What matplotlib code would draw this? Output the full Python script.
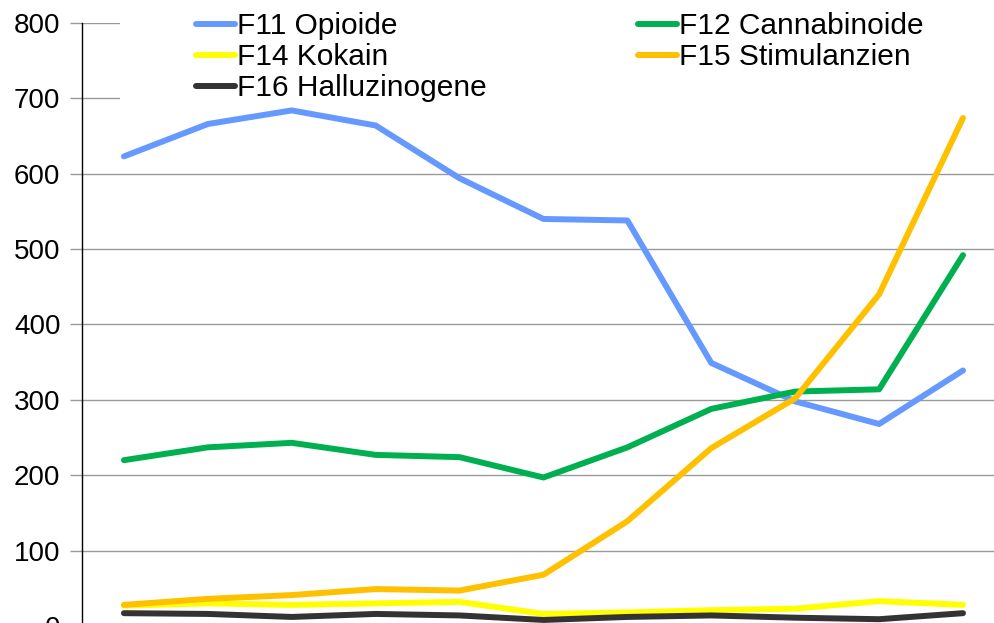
import matplotlib
matplotlib.use("Agg")
import matplotlib.pyplot as plt
from matplotlib.patches import Rectangle
import numpy as np

plt.rcParams['font.family'] = ['Liberation Sans', 'DejaVu Sans']

# values (year labels are cut off in the source)
f11_opioide = [623, 666, 684, 664, 594, 540, 538, 349, 298, 268, 339]
f12_cannabinoide = [220, 237, 243, 227, 224, 197, 237, 288, 311, 314, 492]
f14_kokain = [27, 30, 28, 30, 32, 16, 18, 21, 23, 33, 28]
f15_stimulanzien = [28, 36, 41, 49, 47, 68, 139, 236, 302, 440, 674]
f16_halluzinogene = [17, 16, 12, 16, 14, 8, 12, 14, 11, 9, 17]

series = [
    ("F11 Opioide", f11_opioide, "#6699FF"),
    ("F12 Cannabinoide", f12_cannabinoide, "#00B050"),
    ("F14 Kokain", f14_kokain, "#FFFF00"),
    ("F15 Stimulanzien", f15_stimulanzien, "#FFC000"),
    ("F16 Halluzinogene", f16_halluzinogene, "#333333"),
]

fig = plt.figure(figsize=(9.95, 6.23), dpi=100)
ax = fig.add_axes([0.0824, -0.0048, 0.9276, 0.9679])

x = np.arange(len(f11_opioide))
handles = []
for label, vals, color in series:
    h, = ax.plot(x, vals, color=color, lw=4.3, label=label, solid_capstyle='round')
    handles.append(h)

ax.set_xlim(-0.5, 10.5)
ax.set_ylim(0, 800)
ax.set_yticks(range(0, 801, 100))
ax.set_xticks([])
ax.yaxis.grid(True, color='#999999', lw=1)
ax.set_axisbelow(True)
ax.tick_params(axis='y', length=9, width=1, color='#999999', pad=6.5, labelsize=20)
for s in ['top', 'right', 'bottom']:
    ax.spines[s].set_visible(False)
ax.spines['left'].set_color('black')
ax.spines['left'].set_linewidth(1)

# white area behind the legend hides the upper gridlines
fig.add_artist(Rectangle((120 / 995, 1 - 104 / 623), 1, 104 / 623,
                         transform=fig.transFigure, facecolor='white',
                         edgecolor='none', zorder=4))

# legend filled row by row: F11 F12 / F14 F15 / F16
order = [0, 2, 4, 1, 3]
fig.legend([handles[i] for i in order], [series[i][0] for i in order],
           loc='upper left', bbox_to_anchor=(196 / 995, 1 - 12 / 623),
           ncol=2, frameon=False, fontsize=21.5, borderpad=0, borderaxespad=0,
           handlelength=1.3, handletextpad=0.08, columnspacing=5.05,
           labelspacing=0.1)

fig.savefig("out.png", dpi=100)
